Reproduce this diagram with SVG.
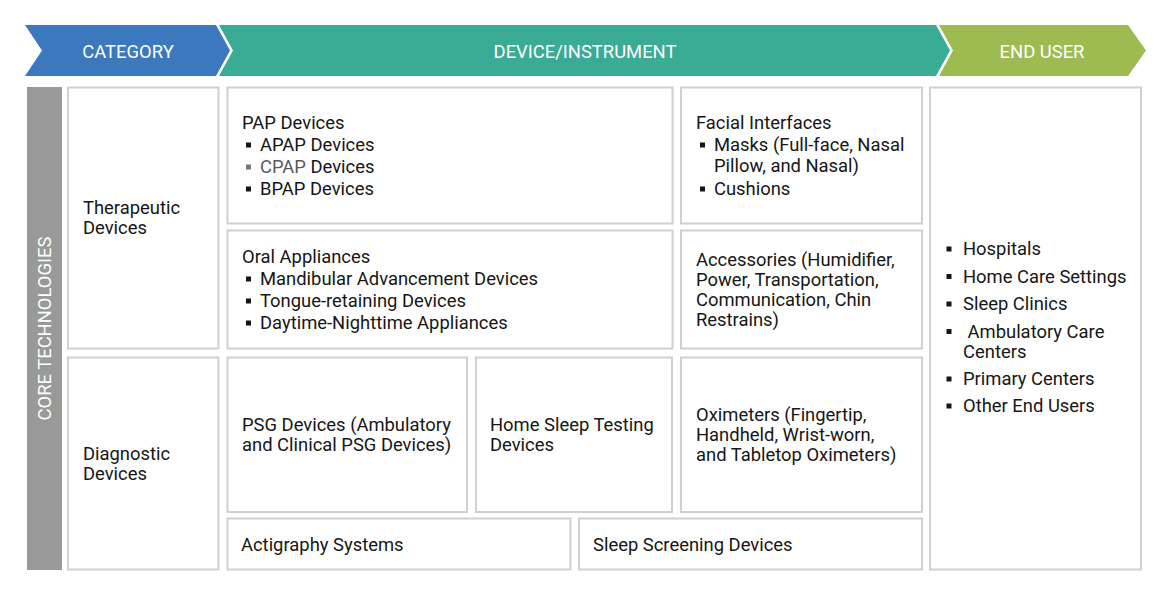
<svg xmlns="http://www.w3.org/2000/svg" width="1170" height="595" viewBox="0 0 1170 595">
<style>
.hd{font-family:Roboto,"Liberation Sans",sans-serif;font-size:18.4px;fill:#ffffff;text-anchor:middle}
.t{font-family:Roboto,"Liberation Sans",sans-serif;font-size:18.4px;fill:#161616}
.g{fill:#5a5a5a}
.box{fill:#ffffff;stroke:#d0d0d0;stroke-width:2}
.bul{fill:#161616}
</style>
<defs>
<rect id="b" x="0" y="-8.5" width="5" height="5" class="bul"/>
<rect id="bg" x="0" y="-8.5" width="5" height="5" fill="#777"/>
</defs>
<rect width="1170" height="595" fill="#ffffff"/>
<g id="header">
<g id="h-category">
<polygon points="25,25 216,25 230,50.5 216,76 25,76 42,50.5" fill="#3b78bd"/>
<text class="hd" x="128" y="57.5">CATEGORY</text>
</g>
<g id="h-device">
<polygon points="219,25 936,25 950,50.5 936,76 219,76 233,50.5" fill="#3aab94"/>
<text class="hd" x="585" y="57.5">DEVICE/INSTRUMENT</text>
</g>
<g id="h-enduser">
<polygon points="939,25 1128,25 1146,50.5 1128,76 939,76 953,50.5" fill="#9dbb50"/>
<text class="hd" x="1042" y="57.5">END USER</text>
</g>
</g>
<g id="core">
<rect x="27" y="87" width="35" height="483" fill="#999999"/>
<text class="hd" font-size="17.3" transform="translate(50.5,328.5) rotate(-90)">CORE TECHNOLOGIES</text>
</g>
<g id="therapeutic">
<rect class="box" x="68" y="87.5" width="150.5" height="261"/>
<text class="t" x="83" y="214">Therapeutic</text>
<text class="t" x="83" y="234">Devices</text>
</g>
<g id="diagnostic">
<rect class="box" x="68" y="357.5" width="150.5" height="212"/>
<text class="t" x="83" y="460">Diagnostic</text>
<text class="t" x="83" y="480">Devices</text>
</g>
<g id="pap">
<rect class="box" x="227.5" y="87.5" width="445" height="136"/>
<text class="t" x="242" y="129">PAP Devices</text>
<use href="#b" x="246" y="151"/><text class="t" x="260" y="151">APAP Devices</text>
<use href="#bg" x="246" y="173"/><text class="t" x="260" y="173"><tspan class="g">CPAP</tspan> Devices</text>
<use href="#b" x="246" y="195"/><text class="t" x="260" y="195">BPAP Devices</text>
</g>
<g id="facial">
<rect class="box" x="681" y="87.5" width="241" height="136"/>
<text class="t" x="696" y="129">Facial Interfaces</text>
<use href="#b" x="700" y="151"/><text class="t" x="714" y="151">Masks (Full-face, Nasal</text>
<text class="t" x="714" y="172">Pillow, and Nasal)</text>
<use href="#b" x="700" y="195"/><text class="t" x="714" y="195">Cushions</text>
</g>
<g id="oral">
<rect class="box" x="227.5" y="230.5" width="445" height="118"/>
<text class="t" x="242" y="263">Oral Appliances</text>
<use href="#b" x="246" y="285"/><text class="t" x="260" y="285">Mandibular Advancement Devices</text>
<use href="#b" x="246" y="307"/><text class="t" x="260" y="307">Tongue-retaining Devices</text>
<use href="#b" x="246" y="329"/><text class="t" x="260" y="329">Daytime-Nighttime Appliances</text>
</g>
<g id="accessories">
<rect class="box" x="681" y="230.5" width="241" height="118"/>
<text class="t" x="696" y="266">Accessories (Humidifier,</text>
<text class="t" x="696" y="286">Power, Transportation,</text>
<text class="t" x="696" y="306">Communication, Chin</text>
<text class="t" x="696" y="326">Restrains)</text>
</g>
<g id="psg">
<rect class="box" x="227.5" y="357.5" width="239.5" height="154.5"/>
<text class="t" x="242" y="431">PSG Devices (Ambulatory</text>
<text class="t" x="242" y="451">and Clinical PSG Devices)</text>
</g>
<g id="hst">
<rect class="box" x="476" y="357.5" width="196" height="154.5"/>
<text class="t" x="490" y="431">Home Sleep Testing</text>
<text class="t" x="490" y="451">Devices</text>
</g>
<g id="oximeters">
<rect class="box" x="681" y="357.5" width="241" height="154.5"/>
<text class="t" x="696" y="420.5">Oximeters (Fingertip,</text>
<text class="t" x="696" y="440.5">Handheld, Wrist-worn,</text>
<text class="t" x="696" y="461">and Tabletop Oximeters)</text>
</g>
<g id="actigraphy">
<rect class="box" x="227.5" y="518.5" width="343" height="51"/>
<text class="t" x="241" y="550.5">Actigraphy Systems</text>
</g>
<g id="screening">
<rect class="box" x="579" y="518.5" width="343" height="51"/>
<text class="t" x="593" y="550.5">Sleep Screening Devices</text>
</g>
<g id="enduser">
<rect class="box" x="930" y="87.5" width="211" height="482"/>
<use href="#b" x="946.5" y="255"/><text class="t" x="963" y="255">Hospitals</text>
<use href="#b" x="946.5" y="282.5"/><text class="t" x="963" y="282.5">Home Care Settings</text>
<use href="#b" x="946.5" y="310"/><text class="t" x="963" y="310">Sleep Clinics</text>
<use href="#b" x="946.5" y="337.5"/><text class="t" x="963" y="337.5" xml:space="preserve"> Ambulatory Care</text>
<text class="t" x="963" y="357.5">Centers</text>
<use href="#b" x="946.5" y="385"/><text class="t" x="963" y="385">Primary Centers</text>
<use href="#b" x="946.5" y="412"/><text class="t" x="963" y="412">Other End Users</text>
</g>
<g id="connectors"></g>
</svg>
